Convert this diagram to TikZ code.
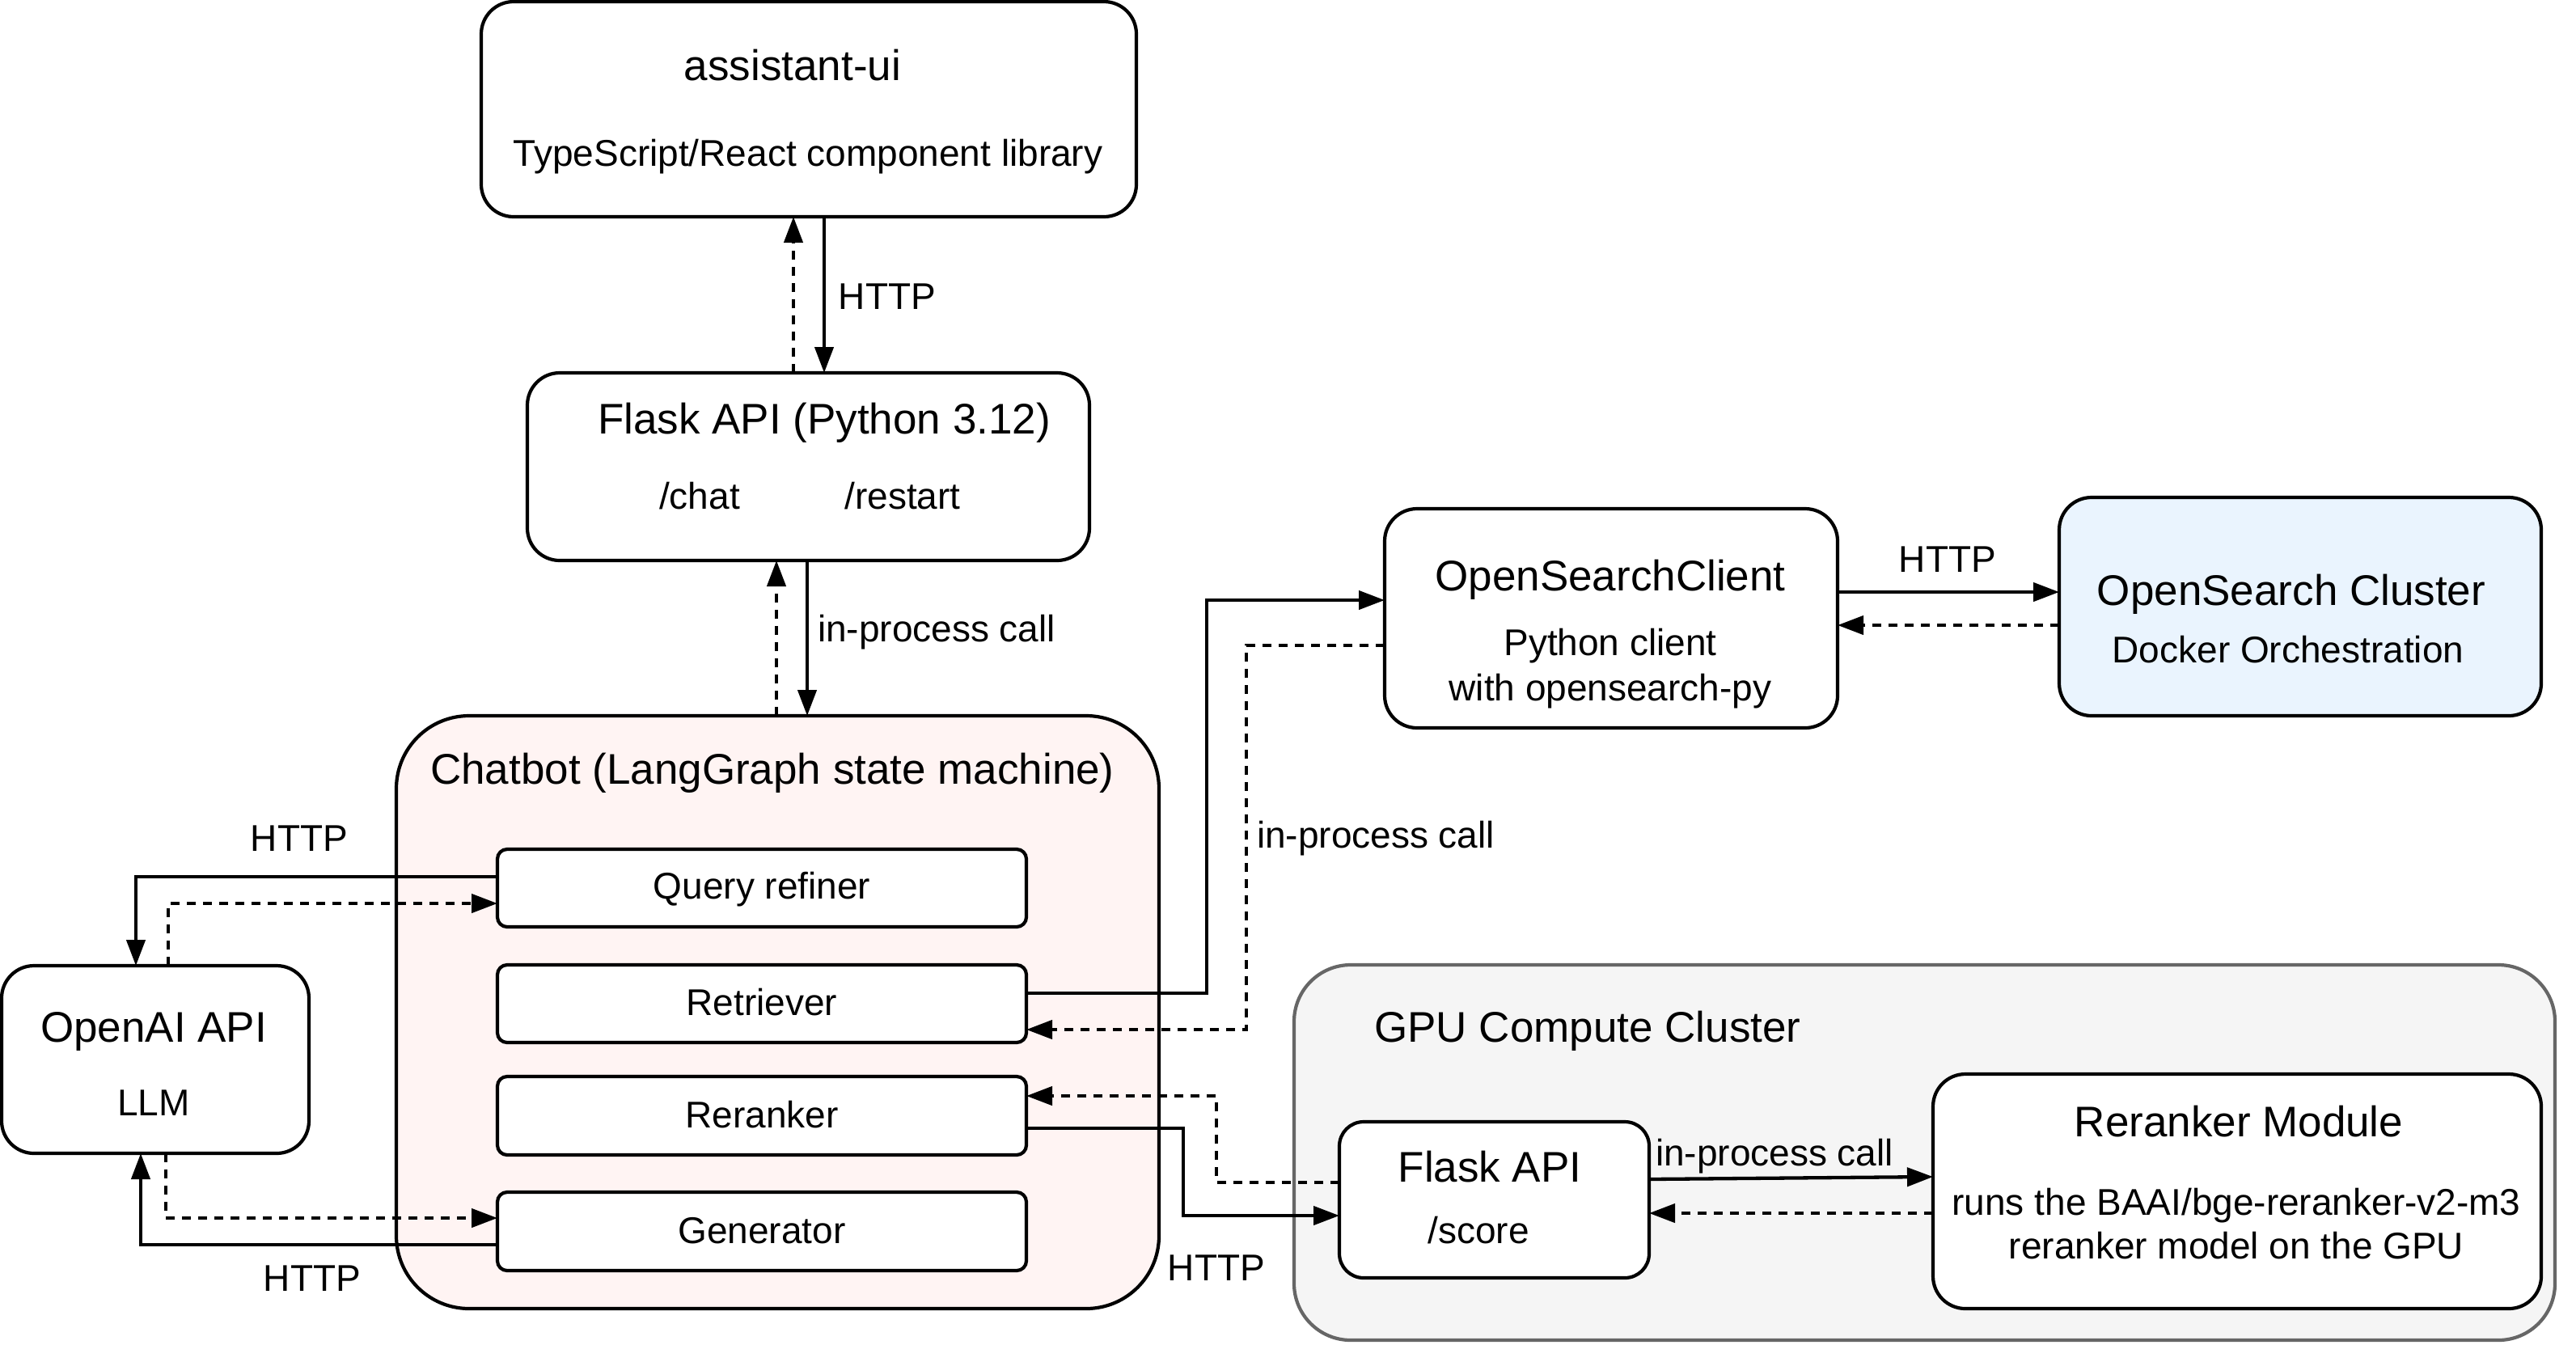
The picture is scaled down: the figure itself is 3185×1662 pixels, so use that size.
\documentclass[tikz,border=0pt]{standalone}
\usepackage{fontspec}
\setmainfont{Liberation Sans}
\usetikzlibrary{arrows.meta}
\definecolor{pinkfill}{RGB}{255,244,243}
\definecolor{bluefill}{RGB}{234,244,254}
\definecolor{grayfill}{RGB}{245,245,245}
\definecolor{graystroke}{RGB}{102,102,102}
\begin{document}
\begin{tikzpicture}[x=0.5pt,y=-0.5pt,
  box/.style={draw=black, line width=2.1pt, fill=white, rounded corners=20pt, inner sep=0pt, outer sep=0pt},
  smallbox/.style={box, rounded corners=6pt},
  ttl/.style={font=\fontsize{26.5}{30}\selectfont, inner sep=0pt},
  txt/.style={font=\fontsize{23}{27}\selectfont, inner sep=0pt},
  conn/.style={line width=2.15pt, -{Triangle[length=16pt,width=11.5pt]}},
  back/.style={conn, dash pattern=on 5.5pt off 4.5pt},
]
\useasboundingbox[fill=white] (0,0) rectangle (3185,1662);

% containers
\node[box, fill=pinkfill, rounded corners=45pt, minimum width=471.5pt, minimum height=366.5pt] (chatbot) at (961.5,1251.5) {};
\node[box, draw=graystroke, fill=grayfill, rounded corners=35pt, minimum width=779.5pt, minimum height=232pt] (gpu) at (2379.5,1425) {};

% boxes
\node[box, minimum width=405pt, minimum height=133pt] (ui) at (1000,135) {};
\node[box, minimum width=347.5pt, minimum height=116pt] (flask) at (999.5,577) {};
\node[smallbox, minimum width=327pt, minimum height=48pt] (qr) at (942,1098) {};
\node[smallbox, minimum width=327pt, minimum height=48pt] (retr) at (942,1241) {};
\node[smallbox, minimum width=327pt, minimum height=48.5pt] (rerank) at (942,1379.5) {};
\node[smallbox, minimum width=327pt, minimum height=48.5pt] (gen) at (942,1522.5) {};
\node[box, minimum width=190pt, minimum height=116pt] (openai) at (192,1310) {};
\node[box, minimum width=280pt, minimum height=135.5pt] (osc) at (1992,764.5) {};
\node[box, fill=bluefill, minimum width=298pt, minimum height=135pt] (osclu) at (2844,750) {};
\node[box, rounded corners=15pt, minimum width=191.5pt, minimum height=96.5pt] (flasktwo) at (1847.5,1483.5) {};
\node[box, minimum width=376pt, minimum height=145pt] (rmod) at (2766,1473) {};

% texts
\node[ttl] (uit) at (980,81) {assistant-ui};
\node[txt] (uis) at (999,194) {TypeScript/React component library};
\node[ttl] (flt) at (1019,523) {Flask API (Python 3.12)};
\node[txt] (flc) at (865,613) {/chat};
\node[txt] (flr) at (1116,613) {/restart};
\node[ttl] (cbt) at (955,956) {Chatbot (LangGraph state machine)};
\node[txt] (qrt) at (942,1100) {Query refiner};
\node[txt] (rett) at (942,1239) {Retriever};
\node[txt] (rert) at (942,1378) {Reranker};
\node[txt] (gent) at (942,1522) {Generator};
\node[ttl] (oat) at (190,1275) {OpenAI API};
\node[txt] (oas) at (190,1364) {LLM};
\node[ttl] (osct) at (1991,717) {OpenSearchClient};
\node[txt] (oscs) at (1991,799) {Python client};
\node[txt] (oscw) at (1991,855) {with opensearch-py};
\node[ttl] (oclt) at (2833,735) {OpenSearch Cluster};
\node[txt] (ocls) at (2829,803) {Docker Orchestration};
\node[ttl] (gput) at (1963,1275) {GPU Compute Cluster};
\node[ttl] (f2t) at (1842,1443) {Flask API};
\node[txt] (f2s) at (1828,1521) {/score};
\node[ttl] (rmt) at (2768,1387) {Reranker Module};
\node[txt] (rms) at (2765,1491) {runs the BAAI/bge-reranker-v2-m3};
\node[txt] (rmu) at (2765,1540) {reranker model on the GPU};

% edge labels
\node[txt] (l1) at (1097,367) {HTTP};
\node[txt] (l2) at (1158,782) {in-process call};
\node[txt] (l3) at (370,1037) {HTTP};
\node[txt] (l4) at (386,1581) {HTTP};
\node[txt] (l5) at (1701,1037) {in-process call};
\node[txt] (l6) at (2408,692) {HTTP};
\node[txt] (l7) at (2194,1430) {in-process call};
\node[txt] (l8) at (1504,1568) {HTTP};

% connectors
\draw[conn] (ui.south -| 1019,0) -- (flask.north -| 1019,0);
\draw[back] (flask.north -| 981,0) -- (ui.south -| 981,0);
\draw[conn] (flask.south -| 998,0) -- (chatbot.north -| 998,0);
\draw[back] (chatbot.north -| 960,0) -- (flask.south -| 960,0);
\draw[conn] (qr.west |- 0,1084) -| (openai.north -| 168,0);
\draw[back] (openai.north -| 208,0) |- (qr.west |- 0,1117);
\draw[conn] (gen.west |- 0,1539) -| (openai.south -| 174,0);
\draw[back] (openai.south -| 205,0) |- (gen.west |- 0,1506);
\draw[conn] (retr.east |- 0,1228) -| (1492,742) -- (osc.west |- 0,742);
\draw[back] (osc.west |- 0,798) -| (1541,1273) -- (retr.east |- 0,1273);
\draw[conn] (rerank.east |- 0,1395) -| (1463,1503) -- (flasktwo.west |- 0,1503);
\draw[back] (flasktwo.west |- 0,1462) -| (1504,1355) -- (rerank.east |- 0,1355);
\draw[conn] (osc.east |- 0,732) -- (osclu.west |- 0,732);
\draw[back] (osclu.west |- 0,773) -- (osc.east |- 0,773);
\draw[conn] (flasktwo.east |- 0,1458) -- (rmod.west |- 0,1455);
\draw[back] (rmod.west |- 0,1500) -- (flasktwo.east |- 0,1500);
\end{tikzpicture}
\end{document}
